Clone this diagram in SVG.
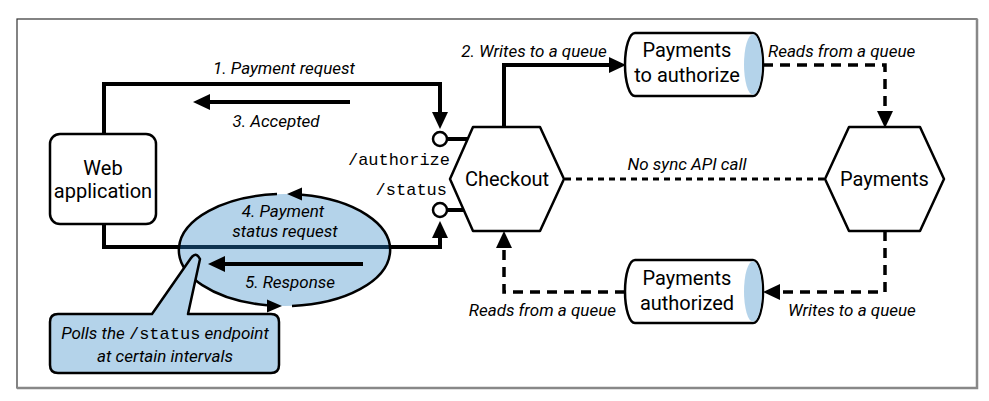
<svg xmlns="http://www.w3.org/2000/svg" width="989" height="401" viewBox="0 0 989 401">
<defs>
<style>
.node{fill:#fff;stroke:#000;stroke-width:2.5;stroke-linejoin:round}
.blue{fill:#b4d3ea}
.lbl{font-family:Roboto,"Noto Sans",sans-serif;font-size:20px;text-anchor:middle;fill:#000}
.it{font-family:Roboto,"Noto Sans",sans-serif;font-style:italic;font-size:17px;fill:#000}
.mid{text-anchor:middle}
.end{text-anchor:end}
.mono{font-family:"Liberation Mono","DejaVu Sans Mono",monospace;font-style:normal;font-size:17px;fill:#000}
.solid{fill:none;stroke:#000;stroke-width:4}
.dash{fill:none;stroke:#000;stroke-width:3.5;stroke-dasharray:10 7}
.dot{fill:none;stroke:#000;stroke-width:3;stroke-dasharray:6 5}
</style>
<marker id="ah" markerUnits="userSpaceOnUse" markerWidth="17" markerHeight="16" viewBox="0 0 17 16" refX="11" refY="8" orient="auto">
<path d="M0,0 L17,8 L0,16 Z" fill="#000"/>
</marker>
</defs>
<rect x="0" y="0" width="989" height="401" fill="#fff"/>
<rect x="17" y="19" width="960" height="369" fill="none" stroke="#333" stroke-width="1.2"/>
<polyline points="977,19 977,388 17,388" fill="none" stroke="#888" stroke-width="2.5"/>

<g id="polling-cycle">
<ellipse cx="284.5" cy="250" rx="105.5" ry="56" class="blue"/>
</g>

<g id="connectors">
<path class="solid" d="M104,134 V84 H440 V123" marker-end="url(#ah)"/>
<path class="solid" d="M104,224 V247 H440 V227" marker-end="url(#ah)"/>
<path d="M180,247 H389" stroke="#0f3350" stroke-width="4"/>
<path class="solid" d="M350,102 H199" marker-end="url(#ah)"/>
<path class="solid" d="M363,264 H214" marker-end="url(#ah)"/>
<path class="solid" d="M504,127 V65 H620" marker-end="url(#ah)"/>
<path class="dash" d="M763,65 H885 V122" marker-end="url(#ah)"/>
<path class="dash" d="M885,231 V292 H769" marker-end="url(#ah)"/>
<path class="dash" d="M625,292 H504 V237" marker-end="url(#ah)"/>
<path class="dot" d="M565,179 H825"/>
<path class="solid" d="M447,139 H468" stroke-width="3"/>
<path class="solid" d="M447,210 H464" stroke-width="3"/>
</g>

<g id="polling-cycle-outline" fill="none" stroke="#000" stroke-width="2.5">
<path d="M302,194.8 A105.5,56 0 0 1 292,305.9"/>
<path d="M267,305.2 A105.5,56 0 0 1 277,194.1"/>
<polygon points="287,194 302,187.5 302,200.5" fill="#000" stroke="none"/>
<polygon points="282,306 267,299.5 267,312.5" fill="#000" stroke="none"/>
</g>

<g id="web-application">
<rect x="50" y="134" width="106" height="90" rx="10" class="node"/>
<text class="lbl" x="103" y="175">Web</text>
<text class="lbl" x="103" y="198">application</text>
</g>

<g id="endpoint-authorize">
<circle cx="440" cy="139" r="7" class="node"/>
<text class="mono end" x="450" y="165">/authorize</text>
</g>
<g id="endpoint-status">
<circle cx="440" cy="210" r="7" class="node"/>
<text class="mono end" x="447" y="195">/status</text>
</g>

<g id="checkout">
<polygon class="node" points="450,179 473,127 540,127 564,179 540,231 473,231"/>
<text class="lbl" x="507" y="186">Checkout</text>
</g>

<g id="payments">
<polygon class="node" points="825,179 849,127 920,127 944,179 920,231 849,231"/>
<text class="lbl" x="884.5" y="186">Payments</text>
</g>

<g id="queue-payments-to-authorize">
<path class="node" d="M635,33 H753 A10,31.5 0 0 1 753,96 H635 A10,31.5 0 0 1 635,33 Z"/>
<ellipse cx="753" cy="64.5" rx="9" ry="30.3" class="blue"/>
<text class="lbl" x="687" y="57">Payments</text>
<text class="lbl" x="687" y="82">to authorize</text>
</g>

<g id="queue-payments-authorized">
<path class="node" d="M635,260 H753 A10,31.5 0 0 1 753,323 H635 A10,31.5 0 0 1 635,260 Z"/>
<ellipse cx="753" cy="291.5" rx="9" ry="30.3" class="blue"/>
<text class="lbl" x="687" y="285">Payments</text>
<text class="lbl" x="687" y="310">authorized</text>
</g>

<g id="labels">
<text class="it mid" x="284" y="74">1. Payment request</text>
<text class="it mid" x="276" y="127">3. Accepted</text>
<text class="it mid" x="283" y="217">4. Payment</text>
<text class="it mid" x="285" y="237">status request</text>
<text class="it mid" x="290" y="288">5. Response</text>
<text class="it mid" x="534" y="57">2. Writes to a queue</text>
<text class="it" x="768" y="57">Reads from a queue</text>
<text class="it mid" x="687" y="170">No sync API call</text>
<text class="it end" x="616" y="316">Reads from a queue</text>
<text class="it" x="788" y="316">Writes to a queue</text>
</g>

<g id="callout">
<path class="node blue" d="M58,314 H152 L191,258 Q196,251 200,259 L188,314 H271 Q279,314 279,322 V365 Q279,373 271,373 H58 Q50,373 50,365 V322 Q50,314 58,314 Z" style="fill:#b4d3ea"/>
<text class="it mid" x="165" y="339">Polls the <tspan class="mono">/status</tspan> endpoint</text>
<text class="it mid" x="165" y="362">at certain intervals</text>
</g>
</svg>
